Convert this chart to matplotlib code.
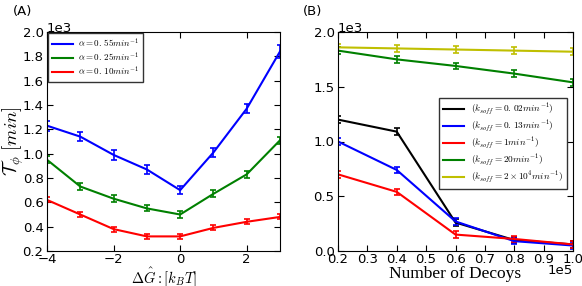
import matplotlib
matplotlib.use('Agg')
import matplotlib.pyplot as plt

# panel A data (tau_phi in min)
dG = [-4, -3, -2, -1, 0, 1, 2, 3]
tau_a55 = [1230, 1140, 990, 870, 700, 1010, 1370, 1840]
tau_a25 = [950, 730, 630, 550, 500, 670, 830, 1110]
tau_a10 = [620, 500, 380, 320, 320, 390, 440, 480]
err_a55 = [40, 40, 40, 40, 35, 40, 35, 50]
err_a25 = [30, 25, 30, 25, 30, 30, 30, 30]
err_a10 = [20, 20, 20, 20, 20, 20, 20, 20]

# panel B data
decoys = [20000, 40000, 60000, 80000, 100000]
tau_k002 = [1200, 1090, 260, 100, 60]
tau_k013 = [1000, 740, 270, 90, 50]
tau_k1 = [700, 540, 150, 110, 60]
tau_k20 = [1830, 1750, 1690, 1620, 1540]
tau_k2e4 = [1860, 1850, 1840, 1830, 1820]
err_b = [30, 30, 30, 30, 30]

plt.rcParams['xtick.direction'] = 'in'
plt.rcParams['ytick.direction'] = 'in'
plt.rcParams['xtick.top'] = True
plt.rcParams['ytick.right'] = True
plt.rcParams['xtick.major.size'] = 4
plt.rcParams['ytick.major.size'] = 4
plt.rcParams['xtick.major.pad'] = 1.5
plt.rcParams['ytick.major.pad'] = 2.5
plt.rcParams['font.size'] = 9.5
plt.rcParams['mathtext.fontset'] = 'cm'

fig = plt.figure(figsize=(5.82, 2.86), dpi=100)
W, H = 582, 286
axA = fig.add_axes([47 / W, 1 - 251 / H, 233 / W, 219 / H])
axB = fig.add_axes([338 / W, 1 - 251 / H, 235 / W, 219 / H])

eb = dict(capsize=2.5, elinewidth=1.2, capthick=1.2, lw=1.5)
la = axA.errorbar(dG, tau_a55, yerr=err_a55, color='b', label=r'$\alpha=0.\,55min^{-1}$', **eb)
lb = axA.errorbar(dG, tau_a25, yerr=err_a25, color='g', label=r'$\alpha=0.\,25min^{-1}$', **eb)
lc = axA.errorbar(dG, tau_a10, yerr=err_a10, color='r', label=r'$\alpha=0.\,10min^{-1}$', **eb)
axA.set_xlim(-4, 3)
axA.set_ylim(200, 2000)
axA.set_yticks([200, 400, 600, 800, 1000, 1200, 1400, 1600, 1800, 2000])
axA.ticklabel_format(style='sci', axis='y', scilimits=(0, 0))
axA.yaxis.get_offset_text().set_visible(False)
axA.set_xlabel(r'$\Delta\hat{G}:[k_BT]$', fontsize=10.5, labelpad=-1)
axA.set_ylabel(r'$\mathcal{T}_\phi\ [min]$', fontsize=13.5)
axA.yaxis.set_label_coords(-0.092, 0.5)
axA.legend(handles=[la[0], lb[0], lc[0]], labels=[c.get_label() for c in (la, lb, lc)],
           loc='upper left', fontsize=6.5, handlelength=2.3, handletextpad=0.55,
           labelspacing=0.05, borderpad=0.45, fancybox=False, edgecolor='0.2',
           framealpha=1, borderaxespad=0.1)

conts = []
conts.append(axB.errorbar(decoys, tau_k002, yerr=err_b, color='k', label=r'$(k_{soff}=0.\,02min^{-1})$', **eb))
conts.append(axB.errorbar(decoys, tau_k013, yerr=err_b, color='b', label=r'$(k_{soff}=0.\,13min^{-1})$', **eb))
conts.append(axB.errorbar(decoys, tau_k1, yerr=err_b, color='r', label=r'$(k_{soff}=1min^{-1})$', **eb))
conts.append(axB.errorbar(decoys, tau_k20, yerr=err_b, color='g', label=r'$(k_{soff}=20min^{-1})$', **eb))
conts.append(axB.errorbar(decoys, tau_k2e4, yerr=err_b, color=(0.75, 0.75, 0), label=r'$(k_{soff}=2\times10^4min^{-1})$', **eb))
axB.set_xlim(20000, 100000)
axB.set_ylim(0, 2000)
axB.set_xticks([20000, 30000, 40000, 50000, 60000, 70000, 80000, 90000, 100000])
axB.set_yticks([0, 500, 1000, 1500, 2000])
axB.ticklabel_format(style='sci', axis='both', scilimits=(0, 0))
axB.yaxis.get_offset_text().set_visible(False)
axB.xaxis.get_offset_text().set_visible(False)
axB.set_xlabel('Number of Decoys', family='Liberation Serif', fontsize=12.5, labelpad=0)
axB.legend(handles=[c[0] for c in conts], labels=[c.get_label() for c in conts],
           loc='upper right', bbox_to_anchor=(0.975, 0.70), fontsize=6.7, handlelength=2.3,
           handletextpad=0.75, labelspacing=0.15, borderpad=0.45, fancybox=False,
           edgecolor='0.2', framealpha=1, borderaxespad=0)

# offset labels and panel tags
fig.text(47 / W, 1 - 28 / H, '1e3', va='center', ha='left')
fig.text(338 / W, 1 - 28 / H, '1e3', va='center', ha='left')
fig.text(573 / W, 1 - 271 / H, '1e5', va='center', ha='right')
fig.text(13 / W, 1 - 12 / H, '(A)', va='center')
fig.text(303 / W, 1 - 12 / H, '(B)', va='center')

fig.savefig('out.png', dpi=100)
